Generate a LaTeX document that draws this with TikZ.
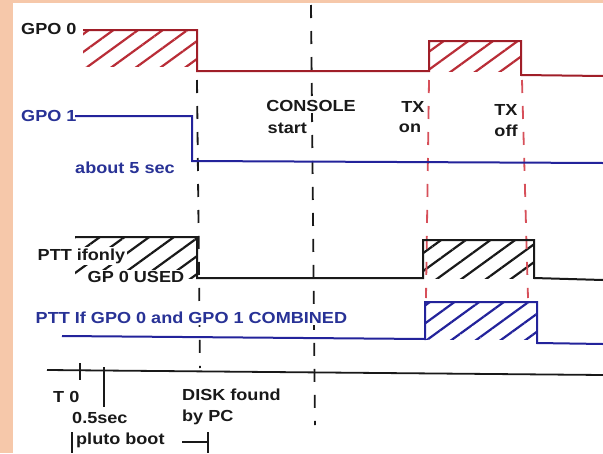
\documentclass[tikz,border=0pt]{standalone}
\usepackage{fontspec}
\setmainfont[FakeStretch=1.13]{Liberation Sans}
\usetikzlibrary{patterns.meta}
\definecolor{peach}{RGB}{246,200,170}
\definecolor{sigred}{RGB}{160,30,40}
\definecolor{hatchred}{RGB}{185,45,55}
\definecolor{dashred}{RGB}{215,80,90}
\definecolor{sigblue}{RGB}{35,35,155}
\definecolor{txtblue}{RGB}{40,50,150}
\definecolor{ink}{RGB}{25,25,25}
\begin{document}
\begin{tikzpicture}[x=1pt,y=-1pt,
  lbl/.style={font=\bfseries\fontsize{16}{18}\selectfont, text=ink, inner sep=0pt, anchor=west},
  bluelbl/.style={lbl, text=txtblue},
  knock/.style={fill=white, inner sep=1.5pt},
  sig/.style={line width=2pt, line join=miter},
  vdash/.style={line width=1.8pt, dash pattern=on 13pt off 13pt},
  hatchR/.style={pattern={Lines[angle=36, distance=14.5pt, line width=2.2pt]}, pattern color=hatchred},
  hatchK/.style={pattern={Lines[angle=36, distance=14.5pt, line width=2.2pt]}, pattern color=ink},
  hatchB/.style={pattern={Lines[angle=36, distance=14.5pt, line width=2.2pt]}, pattern color=sigblue},
  tick/.style={line width=1.8pt, draw=ink}]
\path[use as bounding box] (0,0) rectangle (603,453);
\fill[white] (0,0) rectangle (603,453);
\fill[peach] (0,0) rectangle (13,453);
\fill[peach] (0,0) rectangle (603,3);

% hatched areas
\fill[hatchR] (83,31) rectangle (197,66);
\fill[hatchR] (429,42) rectangle (521,71);
\fill[hatchK] (75,238) rectangle (197,278);
\fill[hatchK] (423,241) rectangle (534,278);
\fill[hatchB] (425,303) rectangle (537,339);

% vertical dashed markers
\draw[vdash, draw=ink] (197,80) -- (200,368);
\draw[vdash, draw=ink] (311,5) -- (315,425);
\draw[vdash, draw=dashred] (429,80) -- (426,298);
\draw[vdash, draw=dashred] (522,80) -- (528,298);

% GPO 0
\draw[sig, draw=sigred] (83,30) -- (197,30) -- (197,71) -- (429,71) -- (429,41) -- (521,41) -- (521,75) -- (603,76);
% GPO 1
\draw[sig, draw=sigblue] (75,116) -- (192,116) -- (192,161) -- (603,163);
% PTT only GPO 0
\draw[sig, draw=ink] (75,237) -- (197,237) -- (197,278) -- (423,278) -- (423,240) -- (534,240) -- (534,278) -- (603,280);
% PTT combined
\draw[sig, draw=sigblue] (62,336) -- (425,339) -- (425,302) -- (537,302) -- (537,343) -- (603,344);

% time axis
\draw[tick] (47,370) -- (603,375);
\draw[tick] (80,363) -- (80,380);
\draw[tick] (104,367) -- (104,407);
\draw[tick] (72,432) -- (72,453);
\draw[tick] (182,442) -- (208,442);
\draw[tick] (208,432) -- (208,453);

% labels
\node[lbl] (gpo0) at (21,29) {GPO 0};
\node[bluelbl] (gpo1) at (21,116) {GPO 1};
\node[bluelbl] (five) at (75,168) {about 5 sec};
\node[lbl, knock, anchor=center] (console) at (311,106) {CONSOLE};
\node[lbl, knock] (start) at (266,128) {start};
\node[lbl, knock, anchor=center] (txon) at (413,107) {TX};
\node[lbl, knock, anchor=center] (on) at (410,128) {on};
\node[lbl, knock, anchor=center] (txoff) at (506,110) {TX};
\node[lbl, knock, anchor=center] (off) at (506,131) {off};
\node[lbl, knock] (pttonly) at (36,256) {PTT ifonly};
\node[lbl, knock] (gp0used) at (86,277) {GP 0 USED};
\node[bluelbl, knock] (pttcomb) at (34,318) {PTT If GPO 0 and GPO 1 COMBINED};
\node[lbl] (t0) at (53,397) {T 0};
\node[lbl] (half) at (72,418) {0.5sec};
\node[lbl] (pluto) at (76,440) {pluto boot};
\node[lbl] (disk) at (182,395) {DISK found};
\node[lbl] (bypc) at (182,417) {by PC};
\end{tikzpicture}
\end{document}
